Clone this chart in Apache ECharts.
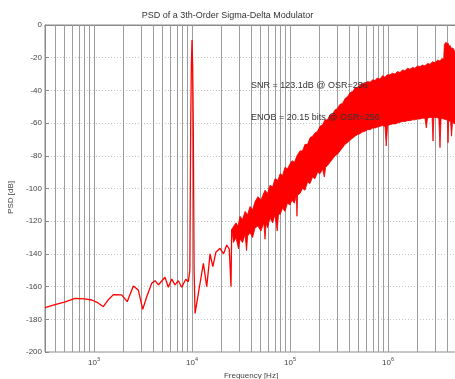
<!DOCTYPE html>
<html>
<head>
<meta charset="utf-8">
<script src="https://cdn.jsdelivr.net/npm/echarts@6/dist/echarts.min.js"></script>
<style>
html,body{margin:0;padding:0;background:#fff;}
#chart{width:455px;height:379px;}
</style>
</head>
<body>
<div id="chart"></div>
<script>
// ---- Data ----
const titleText = 'PSD of a 3th-Order Sigma-Delta Modulator';
const xName = 'Frequency [Hz]';
const yName = 'PSD [dB]';
const snrText = 'SNR = 123.1dB @ OSR=256';
const enobText = 'ENOB = 20.15 bits @ OSR=256';

const yTicks = [0, -20, -40, -60, -80, -100, -120, -140, -160, -180, -200];
const xDecades = [1000, 10000, 100000, 1000000];
const gridMultipliers = [1, 2, 3, 4, 5, 6, 7, 8, 9];
const gridDecadeStarts = [100, 1000, 10000, 100000, 1000000];

// Low-frequency part of the PSD (single trace incl. the signal tone)
const lineFreq = [316, 400, 500, 640, 800, 950, 1100, 1245, 1400, 1575, 1915, 2180, 2520, 2830, 3140, 3450, 3880, 4190, 4530, 5300, 5730, 6210, 6710, 7250, 7850, 8630, 9170, 9500, 9700, 9850, 10000, 10150, 10300, 10500, 10740, 11890, 13060, 14130, 15280, 16300, 17500, 19300, 21000, 22600, 24000, 25000, 25400];
const lineDb = [-172.9, -171, -169.5, -167.2, -167.5, -168.2, -170, -172.3, -168, -164.9, -165.1, -169.2, -159.6, -162.1, -173.9, -166.2, -158, -156.4, -159, -154.3, -160.4, -155.4, -159, -156.4, -160.4, -155.5, -157, -150, -60, -25, -9.2, -25, -60, -150, -176.4, -160.4, -145.8, -160, -140, -147.8, -139, -136.6, -140, -134.6, -137, -160, -125];

// High-frequency shaped-noise band: upper edge
const bandUpFreq = [25400, 28100, 29500, 30900, 32800, 34800, 36900, 39100, 41500, 44000, 47100, 50500, 55600, 59000, 62500, 66500, 70300, 75500, 79100, 84000, 88900, 94000, 100000, 104800, 111000, 117800, 126500, 134000, 142200, 151000, 160000, 170000, 179900, 191000, 202300, 215000, 227600, 241000, 255900, 272000, 287800, 305000, 323700, 344000, 364000, 385000, 409400, 439300, 460400, 490000, 517800, 543000, 582400, 620000, 655000, 700000, 736600, 772000, 828500, 880000, 931800, 977000, 1048000, 1110000, 1178000, 1250000, 1325000, 1410000, 1490000, 1580000, 1676000, 1780000, 1885000, 2000000, 2120000, 2250000, 2385000, 2530000, 2683000, 2850000, 3017000, 3200000, 3393000, 3550000, 3700000, 3760000, 3900000, 4000000, 4100000, 4200000, 4300000, 4450000, 4600000, 4830000, 5060000];
const bandUpDb = [-125, -121, -123, -117, -119, -114, -116, -111, -113, -108, -105, -107, -101, -103, -98, -99, -94, -95, -91, -92, -87, -88, -85, -83, -84, -80, -77, -77, -73, -73, -69, -68, -66, -65, -62, -61, -58, -58, -55, -54.5, -52, -51, -48.5, -48, -45, -44, -41.5, -40.5, -38.5, -38, -37, -35.5, -36, -34.5, -35, -33.5, -34, -32.5, -33, -31, -32, -30.5, -30.5, -29.5, -30, -28.5, -29, -27.5, -28, -26.5, -27, -26, -26.5, -25, -25.5, -24.5, -25, -23.5, -24, -22.5, -23, -21.5, -22, -20.5, -21, -12, -10.5, -11.5, -11, -13, -12.5, -14.5, -14, -16.5, -17];

// High-frequency shaped-noise band: lower edge (with downward spikes)
const bandLoFreq = [25400, 26500, 28100, 29800, 30900, 32800, 34800, 36000, 37000, 39100, 41500, 44000, 47100, 50500, 54000, 55600, 57000, 59000, 62500, 66500, 70300, 74000, 76500, 79100, 84000, 88900, 94000, 100000, 104800, 111000, 116000, 117800, 119500, 126500, 134000, 142200, 151000, 160000, 170000, 179900, 191000, 202300, 215000, 224000, 231000, 241000, 255900, 272000, 287800, 305000, 323700, 344000, 364000, 385000, 409400, 439300, 460400, 490000, 517800, 543000, 582400, 620000, 655000, 700000, 736600, 772000, 828500, 880000, 931800, 960000, 990000, 1048000, 1110000, 1178000, 1250000, 1325000, 1410000, 1490000, 1580000, 1676000, 1780000, 1885000, 2000000, 2120000, 2250000, 2385000, 2460000, 2530000, 2683000, 2820000, 2880000, 2940000, 3100000, 3300000, 3393000, 3480000, 3700000, 3900000, 4050000, 4100000, 4160000, 4350000, 4450000, 4550000, 4830000, 5060000];
const bandLoDb = [-125, -133, -130, -137, -131, -133, -128, -138, -129, -127, -130, -124, -123, -126, -121, -131, -121, -124, -118, -121, -116, -126, -115, -116, -112, -114, -109, -110, -107, -109, -104, -117, -104, -103, -100, -101, -96, -97, -93, -94, -90, -91, -88, -93, -87, -86, -84, -82, -80, -79, -77, -75, -73, -72, -70.5, -69, -68, -67, -66.5, -65.5, -65, -64, -64, -63, -63, -62.5, -62, -61.5, -62, -74, -61.5, -61, -60.5, -60.5, -60, -59.5, -59, -59, -58.5, -58.5, -58, -58, -57.5, -57.5, -57, -57, -63, -57, -56.5, -56.5, -71, -56.5, -56.5, -57, -75, -57, -57.5, -58, -58, -72, -58.5, -59, -68, -59.5, -60.5, -61];

// ---- Build options ----
const FONT = 'Liberation Sans, Arial, sans-serif';
const lineData = lineFreq.map((f, i) => [f, lineDb[i]]);
const upData = bandUpFreq.map((f, i) => [f, bandUpDb[i]]);
const loData = bandLoFreq.map((f, i) => [f, bandLoDb[i]]);

const xMin = 316, xMax = 5060000;
const gridLines = [];
gridDecadeStarts.forEach(d => gridMultipliers.forEach(m => {
  const v = d * m;
  if (v > xMin && v < xMax) gridLines.push({ xAxis: v });
}));

const chart = echarts.init(document.getElementById('chart'), null, { renderer: 'canvas' });
chart.setOption({
  animation: false,
  backgroundColor: '#fff',
  textStyle: { fontFamily: FONT },
  title: {
    text: titleText, left: 'center', top: 6,
    textStyle: { fontSize: 9, fontWeight: 'normal', color: '#333', fontFamily: FONT }
  },
  grid: { left: 45, right: -2, top: 25, bottom: 27, show: true, borderColor: '#8a8a8a', borderWidth: 1,
    containLabel: false, outerBoundsMode: 'none' },
  xAxis: {
    type: 'log', logBase: 10, min: xMin, max: xMax,
    name: xName, nameLocation: 'middle', nameGap: 18,
    nameTextStyle: { fontSize: 8, color: '#444', fontFamily: FONT },
    axisLine: { show: true, lineStyle: { color: '#8a8a8a' } },
    axisTick: { show: false },
    splitLine: { show: false },
    axisLabel: {
      showMinLabel: false, showMaxLabel: false, margin: 4, color: '#444',
      formatter: function (v) {
        const e = Math.log10(v);
        if (Math.abs(e - Math.round(e)) > 1e-6) return '';
        if (xDecades.indexOf(Math.round(v)) < 0) return '';
        return '{b|10}{e|' + Math.round(e) + '}';
      },
      rich: {
        b: { fontSize: 8, color: '#444', fontFamily: FONT, verticalAlign: 'bottom' },
        e: { fontSize: 5.5, color: '#444', fontFamily: FONT, verticalAlign: 'bottom', padding: [0, 0, 5, 0] }
      }
    }
  },
  yAxis: {
    type: 'value', min: -200, max: 0, interval: 20,
    name: yName, nameLocation: 'middle', nameGap: 28, nameRotate: 90,
    nameTextStyle: { fontSize: 8, color: '#444', fontFamily: FONT, padding: [0, 18, 0, 0] },
    axisLine: { show: true, lineStyle: { color: '#8a8a8a' } },
    axisTick: { show: true, inside: true, length: 4, lineStyle: { color: '#8a8a8a' } },
    axisLabel: { fontSize: 8, color: '#444', margin: 3, fontFamily: FONT,
      customValues: yTicks },
    splitLine: { show: true, lineStyle: { color: '#c4c4c4', type: [1, 2], width: 1 } }
  },
  graphic: [
    { type: 'text', left: 251, top: 81, silent: true, z: 10,
      style: { text: snrText, fontSize: 9, fill: '#333', fontFamily: FONT } },
    { type: 'text', left: 251, top: 113, silent: true, z: 10,
      style: { text: enobText, fontSize: 9, fill: '#333', fontFamily: FONT } }
  ],
  series: [
    {
      type: 'line', data: [], z: 1, silent: true,
      markLine: {
        silent: true, symbol: 'none', z: 1, animation: false,
        label: { show: false },
        lineStyle: { color: '#9c9c9c', type: 'solid', width: 1 },
        data: gridLines
      }
    },
    {
      type: 'custom', z: 3, clip: true, silent: true,
      data: [upData[0]],
      renderItem: function (params, api) {
        const pts = upData.map(p => api.coord(p))
          .concat(loData.slice().reverse().map(p => api.coord(p)));
        return { type: 'polygon', shape: { points: pts },
          style: { fill: '#ff0000', stroke: '#f00000', lineWidth: 0.8 } };
      }
    },
    {
      type: 'line', data: lineData, z: 4, showSymbol: false, symbol: 'none',
      lineStyle: { color: '#ff0000', width: 1.3 }, silent: true
    }
  ]
});
</script>
</body>
</html>
